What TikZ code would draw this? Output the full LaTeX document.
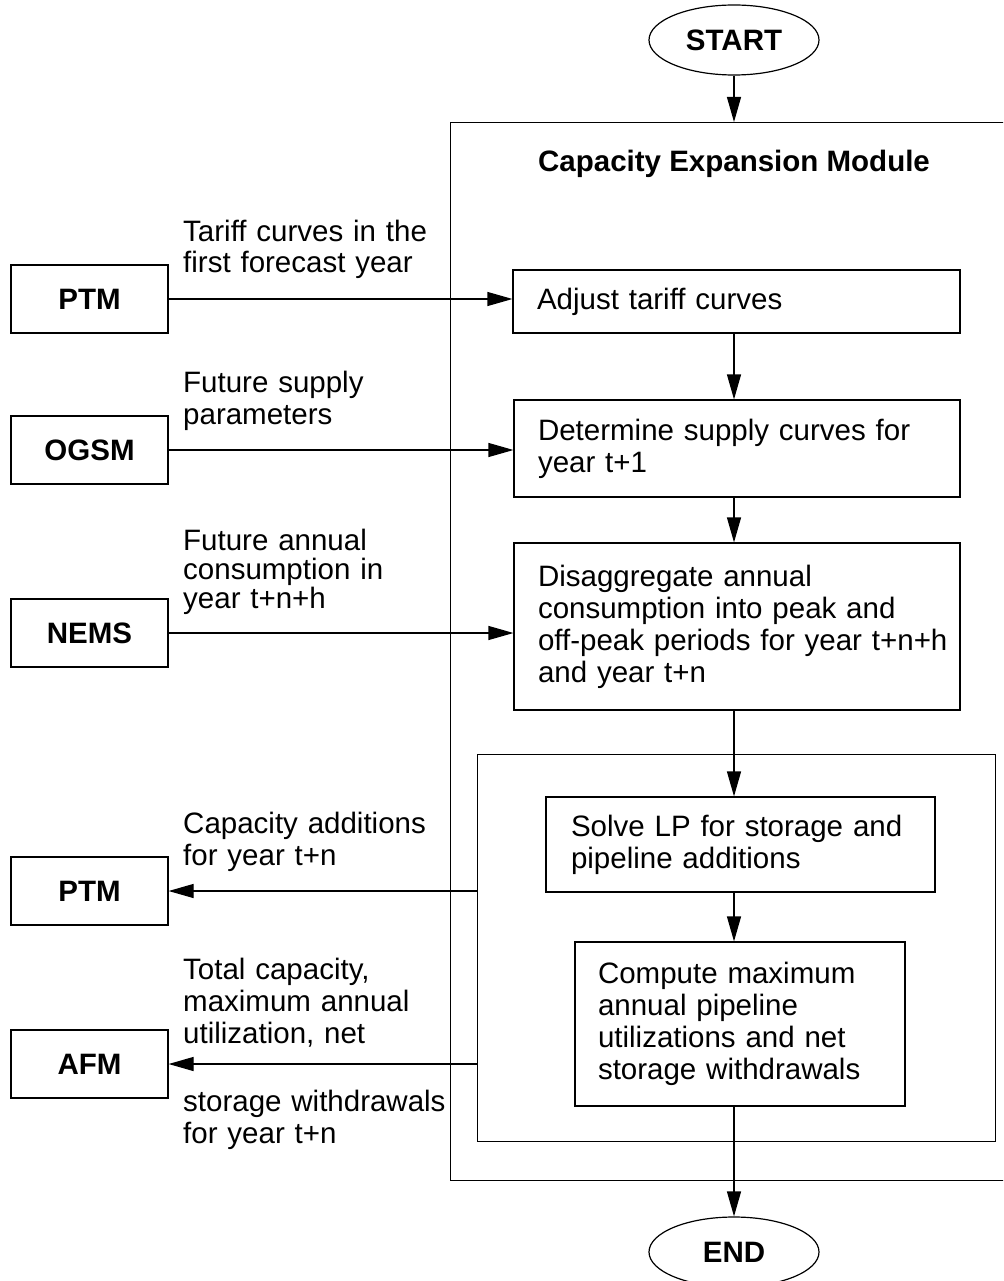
\documentclass[tikz,border=0pt]{standalone}
\usepackage{fontspec}
\setmainfont{Liberation Sans}
\usetikzlibrary{arrows.meta,shapes.geometric}
\begin{document}
\begin{tikzpicture}[x=1pt,y=-1pt,
  txt/.style={font=\fontsize{29.5}{32}\selectfont},
  bold/.style={font=\bfseries\fontsize{29.5}{32}\selectfont},
  line/.style={draw=black, line width=1.2pt},
  flow/.style={line, -{Triangle[length=25pt,width=14pt]}},
  term/.style={ellipse, line, minimum width=170pt, minimum height=70pt, inner sep=0pt, bold},
  srcbox/.style={line, rectangle, minimum width=157pt, minimum height=68pt, inner sep=0pt, bold},
  stepbox/.style={line, rectangle, align=left, inner ysep=0pt, txt},
  frame/.style={line, rectangle, anchor=north west, inner sep=0pt},
  lbl/.style={anchor=base west, inner sep=0pt, text width=300pt, align=left, txt}]

\clip (0,0) rectangle (1003,1281);

% terminals
\node[term] (start) at (734,40) {START};
\node[term] (end) at (734,1252) {END};

% module frame and its title
\node[frame, minimum width=580pt, minimum height=1058pt] (cem) at (450,122) {};
\node[anchor=base, inner sep=0pt, bold] (title) at (734,172) {Capacity Expansion Module};

% processing steps
\node[stepbox, inner xsep=24pt, text width=399pt, minimum height=63pt] (b1) at (736.5,301.5)
  {Adjust tariff curves};
\node[stepbox, inner xsep=24pt, text width=398pt, minimum height=97pt] (b2) at (737,448.5)
  {Determine supply curves for\\year t+1};
\node[stepbox, inner xsep=24pt, text width=398pt, minimum height=167pt] (b3) at (737,626.5)
  {Disaggregate annual\\consumption into peak and\\\mbox{off-peak periods for year t+n+h}\\and year t+n};

% LP sub-frame
\node[frame, minimum width=518pt, minimum height=387pt] (lp) at (477,754) {};
\node[stepbox, inner xsep=25pt, text width=339pt, minimum height=95pt] (b4) at (740.5,844.5)
  {Solve LP for storage and\\pipeline additions};
\node[stepbox, inner xsep=23pt, text width=284pt, minimum height=164pt] (b5) at (740,1024)
  {Compute maximum\\annual pipeline\\utilizations and net\\storage withdrawals};

% external modules
\node[srcbox] (ptmA) at (89.5,299) {PTM};
\node[srcbox] (ogsm) at (89.5,450) {OGSM};
\node[srcbox] (nems) at (89.5,633) {NEMS};
\node[srcbox] (ptmB) at (89.5,891) {PTM};
\node[srcbox] (afm) at (89.5,1064) {AFM};

% data labels
\node[lbl] (lA) at (183,241) {Tariff curves in the\\first forecast year};
\node[lbl] (lB) at (183,392) {Future supply\\parameters};
\node[lbl, font=\fontsize{29.5}{29}\selectfont] (lC) at (183,550) {Future annual\\consumption in\\year t+n+h};
\node[lbl] (lD) at (183,833) {Capacity additions\\for year t+n};
\node[lbl] (lE) at (183,979) {Total capacity,\\maximum annual\\utilization, net};
\node[lbl] (lF) at (183,1111) {storage withdrawals\\for year t+n};

% main flow
\draw[flow] (start) -- (start |- cem.north);
\draw[flow] (start |- b1.south) -- (start |- b2.north);
\draw[flow] (start |- b2.south) -- (start |- b3.north);
\draw[flow] (start |- b3.south) -- (start |- b4.north);
\draw[flow] (start |- b4.south) -- (start |- b5.north);
\draw[flow] (start |- b5.south) -- (end);

% inputs and outputs
\draw[flow] (ptmA) -- (ptmA -| b1.west);
\draw[flow] (ogsm) -- (ogsm -| b2.west);
\draw[flow] (nems) -- (nems -| b3.west);
\draw[flow] (lp.west |- ptmB) -- (ptmB);
\draw[flow] (lp.west |- afm) -- (afm);
\end{tikzpicture}
\end{document}
